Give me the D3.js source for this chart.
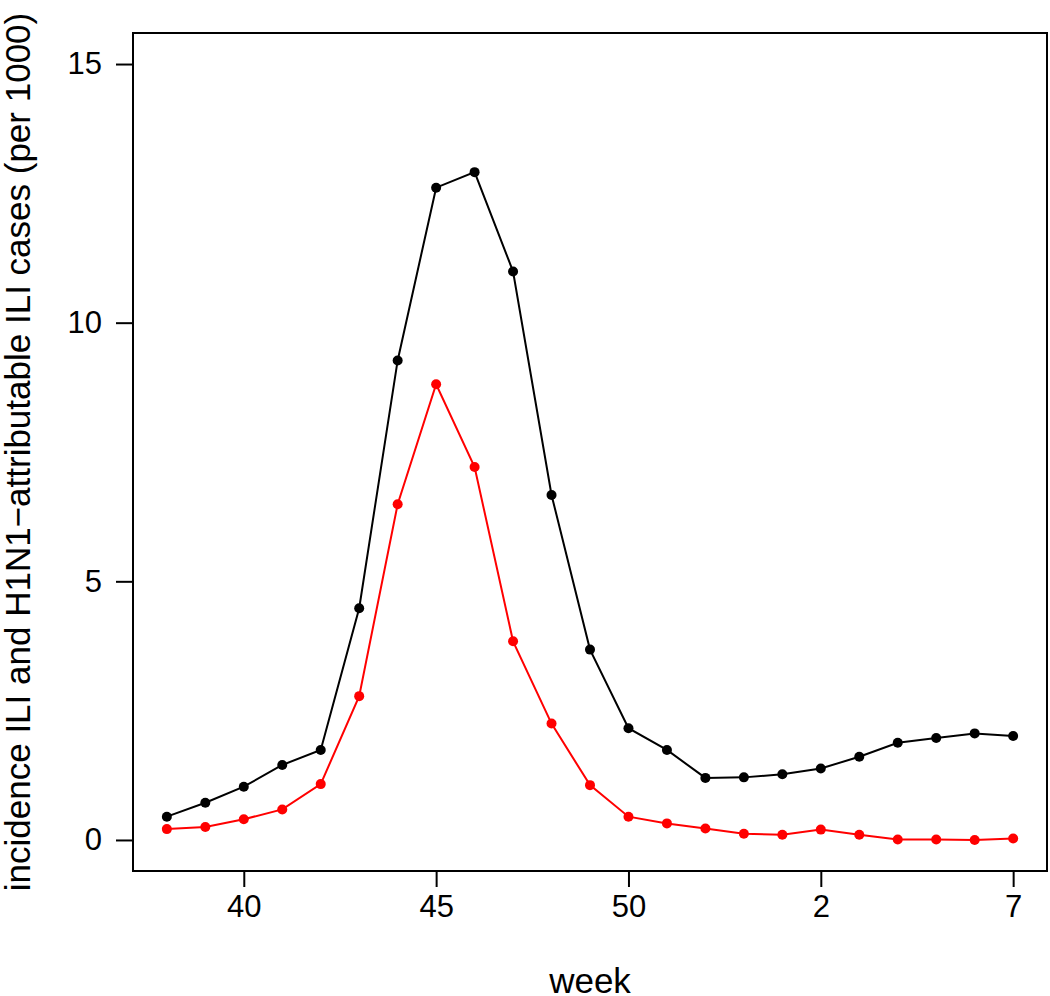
<!DOCTYPE html>
<html>
<head>
<meta charset="utf-8">
<script src="https://cdn.jsdelivr.net/npm/d3@7"></script>
<style>
  html, body { margin: 0; padding: 0; background: #fff; }
  svg { display: block; }
  text { font-family: "Liberation Sans", Arial, sans-serif; fill: #000; }
</style>
</head>
<body>
<svg id="chart" width="1050" height="996"></svg>
<script>
// Week labels (2009 has ISO week 53)
const weeks = [38, 39, 40, 41, 42, 43, 44, 45, 46, 47, 48, 49, 50, 51, 52, 53, 1, 2, 3, 4, 5, 6, 7];
// Incidence of ILI (per 1000)
const iliIncidence = [0.45, 0.72, 1.03, 1.45, 1.74, 4.48, 9.27, 12.61, 12.91, 10.99, 6.67, 3.68, 2.16, 1.74, 1.20, 1.21, 1.27, 1.38, 1.61, 1.88, 1.97, 2.06, 2.01];
// H1N1-attributable ILI (per 1000)
const h1n1Incidence = [0.21, 0.25, 0.40, 0.59, 1.08, 2.78, 6.49, 8.81, 7.21, 3.84, 2.25, 1.06, 0.45, 0.32, 0.22, 0.12, 0.10, 0.20, 0.10, 0.01, 0.01, 0.00, 0.03];
// Tick labels
const xTickWeeks = [40, 45, 50, 2, 7];
const yTicks = [0, 5, 10, 15];
const yLimits = [0, 15];

(function () {
const svg = d3.select("#chart");
const mLeft = 133, mRight = 1047, mTop = 33, mBottom = 871;

const n = weeks.length;
const xPad = (n - 1) * 0.04;
const x = d3.scaleLinear().domain([-xPad, n - 1 + xPad]).range([mLeft, mRight]);
const yPad = (yLimits[1] - yLimits[0]) * 0.04;
const y = d3.scaleLinear().domain([yLimits[0] - yPad, yLimits[1] + yPad]).range([mBottom, mTop]);

const fontSize = 31;
const titleSize = 35;

// X axis
const xTickIdx = xTickWeeks.map(w => weeks.indexOf(w));
const xAxis = d3.axisBottom(x).tickValues(xTickIdx).tickSize(16).tickPadding(8)
  .tickFormat(i => String(weeks[i]));
const gx = svg.append("g").attr("transform", `translate(0,${mBottom})`).call(xAxis);
gx.select(".domain").remove();
gx.selectAll(".tick line").attr("stroke", "#000").attr("stroke-width", 2);
gx.selectAll(".tick text").attr("font-size", fontSize).attr("font-family", "Liberation Sans, Arial, sans-serif").attr("fill", "#000");

// Y axis
const yAxis = d3.axisLeft(y).tickValues(yTicks).tickSize(17).tickPadding(14).tickFormat(d3.format("d"));
const gy = svg.append("g").attr("transform", `translate(${mLeft},0)`).call(yAxis);
gy.select(".domain").remove();
gy.selectAll(".tick line").attr("stroke", "#000").attr("stroke-width", 2);
gy.selectAll(".tick text").attr("font-size", fontSize).attr("font-family", "Liberation Sans, Arial, sans-serif").attr("fill", "#000");

// Box
svg.append("rect").attr("x", mLeft).attr("y", mTop).attr("width", mRight - mLeft).attr("height", mBottom - mTop)
  .attr("fill", "none").attr("stroke", "#000").attr("stroke-width", 2);

// Series
const series = [
  { values: iliIncidence, color: "#000000" },
  { values: h1n1Incidence, color: "#ff0000" }
];
const line = d3.line().x((d, i) => x(i)).y(d => y(d));
series.forEach(s => {
  svg.append("path").datum(s.values).attr("d", line)
    .attr("fill", "none").attr("stroke", s.color).attr("stroke-width", 2);
  svg.append("g").selectAll("circle").data(s.values).join("circle")
    .attr("cx", (d, i) => x(i)).attr("cy", d => y(d)).attr("r", 5).attr("fill", s.color);
});

// Axis titles
svg.append("text").attr("x", (mLeft + mRight) / 2).attr("y", 993).attr("text-anchor", "middle")
  .attr("font-size", titleSize).text("week");
svg.append("text").attr("transform", `translate(30,452) rotate(-90)`)
  .attr("text-anchor", "middle").attr("font-size", titleSize)
  .text("incidence ILI and H1N1\u2212attributable ILI cases (per 1000)");
})();
</script>
</body>
</html>
